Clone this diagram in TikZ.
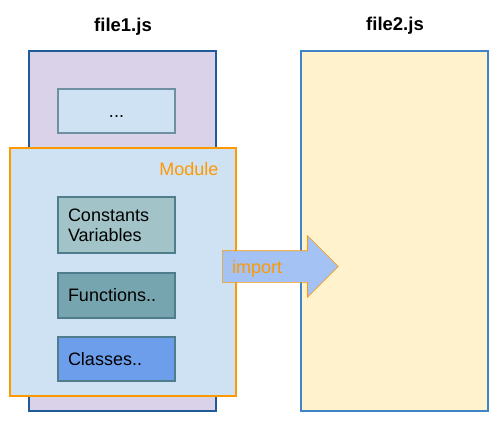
\documentclass[tikz,border=0pt]{standalone}
\usepackage{fontspec}
\setmainfont{Liberation Sans}
\usetikzlibrary{shapes.arrows}

\definecolor{lavender}{HTML}{D9D2E9}
\definecolor{fileblue}{HTML}{1F5A99}
\definecolor{lightblue}{HTML}{CFE2F3}
\definecolor{slate}{HTML}{6F8FA3}
\definecolor{modorange}{HTML}{FF9900}
\definecolor{cyangray}{HTML}{A2C4C9}
\definecolor{tealgray}{HTML}{76A5AF}
\definecolor{cornflower}{HTML}{6D9EEB}
\definecolor{cream}{HTML}{FFF2CC}
\definecolor{midblue}{HTML}{3D85C6}
\definecolor{skyblue}{HTML}{A4C2F4}
\definecolor{tealedge}{HTML}{4F7D8C}

\begin{document}
\begin{tikzpicture}[x=1pt,y=-1pt,
font=\fontsize{18}{20}\selectfont,
file/.style={rectangle,draw,line width=1.5pt,minimum width=187pt,minimum height=360pt,inner sep=0pt},
title/.style={font=\fontsize{18.5}{20}\selectfont\bfseries,anchor=base},
part/.style={rectangle,draw=tealedge,line width=1.2pt,minimum width=117pt,inner sep=10pt,text width=97pt,align=left}
]
    \useasboundingbox (0,0) rectangle (501,425);
    % the two files
    \node[file,draw=fileblue,fill=lavender] (F1) at (122.5,231) {};
    \node[file,draw=midblue,fill=cream] (F2) at (394.5,231) {};
    \node[title] (T1) at (123,32) {file1.js};
    \node[title] (T2) at (395,31) {file2.js};
    \node[part,draw=slate,fill=lightblue,minimum height=44pt,align=center] (D) at (116.5,111) {\vphantom{C}...};
    % the module
    \node[rectangle,draw=modorange,fill=lightblue,line width=1.5pt,minimum width=226pt,minimum height=248pt] (M) at (123,272) {};
    \node[anchor=base east,text=modorange,inner sep=0pt] (ML) at (218.5,176) {Module};
    \node[part,fill=cyangray,minimum height=56pt] (CV) at (116.5,225) {Constants\\Variables};
    \node[part,fill=tealgray,minimum height=45pt] (FN) at (116.5,295.5) {Functions..};
    \node[part,fill=cornflower,minimum height=44pt] (CL) at (116.5,359) {Classes..};
    % import arrow
    \node[single arrow,draw=modorange,fill=skyblue,line width=0.6pt,inner xsep=0pt,inner ysep=15.5pt,
          minimum height=116pt,single arrow head extend=15pt,
          single arrow tip angle=90,anchor=tail] (A) at (222,266.5) {};
    \node[anchor=base west,text=modorange,inner sep=0pt] (AL) at (232,273) {import};
\end{tikzpicture}
\end{document}
